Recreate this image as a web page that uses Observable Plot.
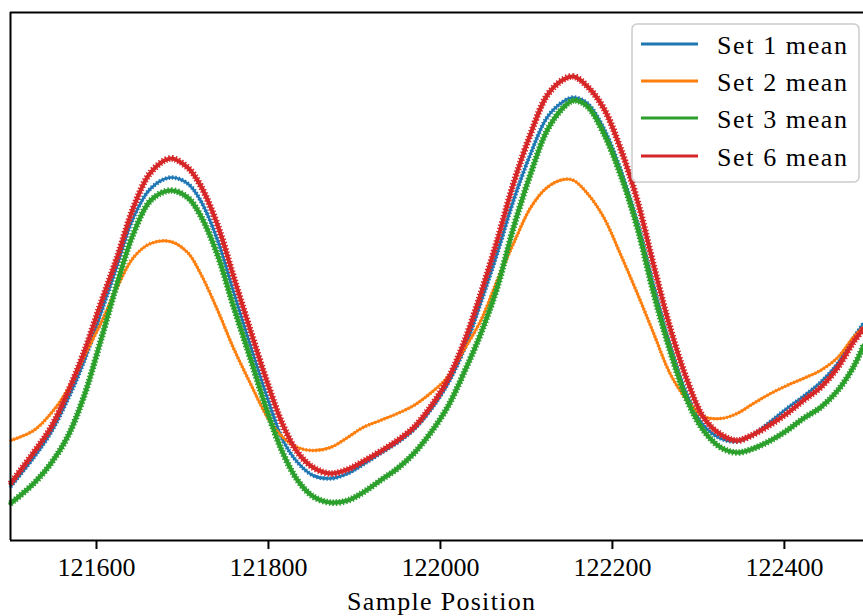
<!DOCTYPE html>
<html><head><meta charset="utf-8">
<script src="https://cdn.jsdelivr.net/npm/d3@7"></script>
<script src="https://cdn.jsdelivr.net/npm/@observablehq/plot@0.6"></script>
<style>html,body{margin:0;padding:0;background:#fff;} #chart{width:863px;height:616px;overflow:hidden}</style>
</head><body><div id="chart"></div>
<script>
// Sample positions (shared x grid)
const positions = [121500,121527,121547,121566,121585,121605,121624,121643,121663,121686,
  121706,121721,121741,121759,121779,121799,121817,121834,121852,121872,
  121892,121910,121930,121950,121969,121988,122008,122027,122047,122066,
  122085,122105,122124,122143,122155,122171,122190,122209,122229,122248,
  122267,122287,122306,122326,122345,122364,122384,122403,122422,122442,
  122462,122480,122492];

const set1Mean = [54,83,108,140,178,227,275,323,352,363, 357,340,300,250,195,142,100,78,65,62,
  67,76,87,98,111,130,156,190,238,287, 340,387,423,439,443,437,412,372,318,254,
  195,145,115,102,99,106,119,132,144,158, 177,202,217];
const set2Mean = [100,110,127,150,183,217,253,283,297,299, 288,267,230,193,157,123,103,93,90,93,
  103,113,120,127,135,147,163,190,220,260, 297,333,353,361,360,347,323,287,247,207,
  167,140,124,122,127,137,147,155,162,170, 183,203,213];
const set3Mean = [37,57,77,103,143,200,257,307,340,350, 343,325,285,235,182,128,87,60,44,38,
  40,48,60,72,87,107,133,167,207,253, 313,367,410,433,440,434,407,367,313,247,
  190,140,110,93,88,92,100,110,122,133, 150,173,195];
const set6Mean = [57,88,113,147,187,237,283,333,368,382, 373,355,315,265,210,157,115,88,73,67,
  71,79,89,100,113,133,160,197,247,300, 357,407,445,461,464,454,432,393,340,275,
  213,160,123,106,100,106,116,127,140,153, 173,198,212];

const seriesNames = ["Set 1 mean","Set 2 mean","Set 3 mean","Set 6 mean"];
const xTicks = [121600,121800,122000,122200,122400];
const xLabel = "Sample Position";

const seriesValues = [set1Mean, set2Mean, set3Mean, set6Mean];
const colors = ["#1f77b4","#ff7f0e","#2ca02c","#d62728"];
const coreWidths = [2.6, 2.4, 4.2, 4];
const toothWidths = [4.4, 3.6, 6.6, 6.8];

const table = [];
seriesNames.forEach((name, i) => {
  seriesValues[i].forEach((v, j) => table.push({series: name, x: positions[j], y: v}));
});

const FONT = "'Liberation Serif', 'DejaVu Serif', serif";
const xDomain = [121500, 122492];
const yDomain = [0, 528];

const marks = [];
seriesNames.forEach((name, i) => {
  const data = table.filter(d => d.series === name);
  marks.push(Plot.line(data, {
    x: "x", y: "y", stroke: colors[i], strokeWidth: coreWidths[i], curve: "catmull-rom"
  }));
  marks.push(Plot.line(data, {
    x: "x", y: "y", stroke: colors[i], strokeWidth: toothWidths[i], curve: "catmull-rom",
    strokeDasharray: "1.4 1.9", strokeLinecap: "butt"
  }));
});
marks.push(Plot.ruleX([xDomain[0]], {stroke: "#000", strokeWidth: 2}));
marks.push(Plot.ruleY(yDomain, {stroke: "#000", strokeWidth: 2}));
marks.push(Plot.axisX(xTicks, {
  tickSize: 9, tickPadding: 8, tickFormat: d => String(d), fontSize: 26,
  strokeWidth: 2, label: null
}));
marks.push(Plot.text([xLabel], {
  frameAnchor: "bottom", dy: 61, dx: 4, text: d => d, fontSize: 26,
  lineAnchor: "middle", className: "xlab", fill: "#000"
}));

const chart = Plot.plot({
  width: 863, height: 616,
  marginTop: 12, marginBottom: 76, marginLeft: 10, marginRight: 0,
  style: {fontFamily: FONT, background: "#fff", color: "#000", overflow: "visible"},
  x: {domain: xDomain},
  y: {domain: yDomain, axis: null},
  marks
});
document.getElementById("chart").appendChild(chart);

const svg = d3.select(chart);
svg.selectAll(".xlab text").attr("textLength", 188).attr("lengthAdjust", "spacing");

// Legend
const lg = svg.append("g").attr("text-anchor", "start");
lg.append("rect").attr("x", 632).attr("y", 24).attr("width", 227).attr("height", 158)
  .attr("rx", 5).attr("fill", "#fff").attr("fill-opacity", 0.8)
  .attr("stroke", "#cccccc").attr("stroke-width", 1.5);
const rowsY = [44, 81, 118, 156];
seriesNames.forEach((name, i) => {
  lg.append("line").attr("x1", 641).attr("x2", 698).attr("y1", rowsY[i]).attr("y2", rowsY[i])
    .attr("stroke", colors[i]).attr("stroke-width", 3);
  lg.append("text").attr("x", 717).attr("y", rowsY[i] + 10).text(name)
    .attr("text-anchor", "start")
    .attr("font-family", FONT).attr("font-size", 26).attr("fill", "#000")
    .attr("textLength", 130).attr("lengthAdjust", "spacing");
});
</script></body></html>
